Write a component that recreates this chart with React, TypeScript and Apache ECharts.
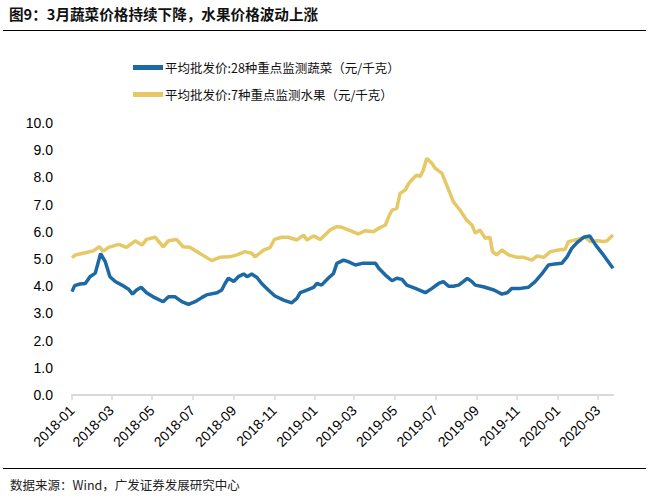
import React, { useEffect, useRef } from "react";
import * as echarts from "echarts";

const titleText = "图9：3月蔬菜价格持续下降，水果价格波动上涨";
const sourceText = "数据来源：Wind，广发证券发展研究中心";
const vegName = "平均批发价:28种重点监测蔬菜（元/千克）";
const fruitName = "平均批发价:7种重点监测水果（元/千克）";

const vegDates = [
  "2018-01-01", "2018-01-05", "2018-01-13", "2018-01-21", "2018-01-28", "2018-02-05", "2018-02-13", "2018-02-20",
  "2018-02-27", "2018-03-07", "2018-03-17", "2018-03-27", "2018-04-02", "2018-04-08", "2018-04-15", "2018-04-23",
  "2018-05-03", "2018-05-18", "2018-05-26", "2018-06-05", "2018-06-15", "2018-06-25", "2018-07-05", "2018-07-15",
  "2018-07-22", "2018-08-07", "2018-08-14", "2018-08-19", "2018-08-24", "2018-09-01", "2018-09-08", "2018-09-16",
  "2018-09-21", "2018-09-28", "2018-10-06", "2018-10-13", "2018-10-23", "2018-11-02", "2018-11-15", "2018-11-27",
  "2018-12-05", "2018-12-10", "2018-12-20", "2018-12-30", "2019-01-04", "2019-01-11", "2019-01-21", "2019-01-29",
  "2019-02-03", "2019-02-13", "2019-02-20", "2019-03-03", "2019-03-13", "2019-03-23", "2019-04-02", "2019-04-07",
  "2019-04-17", "2019-04-27", "2019-05-04", "2019-05-12", "2019-05-19", "2019-06-01", "2019-06-16", "2019-06-26",
  "2019-07-06", "2019-07-13", "2019-07-21", "2019-07-28", "2019-08-05", "2019-08-12", "2019-08-18", "2019-08-25",
  "2019-08-30", "2019-09-11", "2019-09-27", "2019-10-09", "2019-10-17", "2019-10-24", "2019-11-06", "2019-11-18",
  "2019-11-28", "2019-12-08", "2019-12-18", "2019-12-28", "2020-01-07", "2020-01-15", "2020-01-22", "2020-01-30",
  "2020-02-09", "2020-02-18", "2020-02-27", "2020-03-08", "2020-03-15", "2020-03-24",
];
const vegValues = [
  3.8, 4.02, 4.08, 4.1, 4.35, 4.48, 5.2, 4.9,
  4.35, 4.17, 4.04, 3.89, 3.71, 3.86, 3.96, 3.76,
  3.61, 3.43, 3.61, 3.61, 3.43, 3.33, 3.43, 3.58,
  3.68, 3.76, 3.86, 4.1, 4.29, 4.17, 4.35, 4.45,
  4.35, 4.45, 4.32, 4.1, 3.86, 3.64, 3.49, 3.39,
  3.55, 3.76, 3.86, 3.96, 4.1, 4.04, 4.29, 4.47,
  4.84, 4.96, 4.9, 4.78, 4.84, 4.84, 4.84, 4.66,
  4.41, 4.2, 4.29, 4.25, 4.04, 3.92, 3.76, 3.92,
  4.1, 4.17, 4.0, 4.0, 4.04, 4.17, 4.29, 4.17,
  4.04, 3.98, 3.86, 3.71, 3.76, 3.92, 3.92, 3.96,
  4.17, 4.45, 4.78, 4.82, 4.84, 5.08, 5.39, 5.6,
  5.8, 5.85, 5.51, 5.2, 4.96, 4.66,
];

const fruitDates = [
  "2018-01-01", "2018-01-06", "2018-01-21", "2018-02-02", "2018-02-11", "2018-02-17", "2018-02-25", "2018-03-12",
  "2018-03-24", "2018-04-06", "2018-04-16", "2018-04-23", "2018-05-06", "2018-05-18", "2018-05-26", "2018-06-07",
  "2018-06-17", "2018-06-27", "2018-07-08", "2018-07-22", "2018-07-30", "2018-08-11", "2018-08-26", "2018-09-06",
  "2018-09-18", "2018-09-28", "2018-10-03", "2018-10-16", "2018-10-26", "2018-11-01", "2018-11-12", "2018-11-22",
  "2018-12-05", "2018-12-15", "2018-12-20", "2018-12-30", "2019-01-09", "2019-01-16", "2019-01-24", "2019-02-03",
  "2019-02-10", "2019-02-20", "2019-03-07", "2019-03-18", "2019-03-30", "2019-04-07", "2019-04-17", "2019-04-22",
  "2019-04-27", "2019-05-04", "2019-05-09", "2019-05-17", "2019-05-22", "2019-05-29", "2019-06-03", "2019-06-08",
  "2019-06-13", "2019-06-18", "2019-06-26", "2019-07-01", "2019-07-11", "2019-07-21", "2019-07-28", "2019-08-07",
  "2019-08-17", "2019-08-25", "2019-08-30", "2019-09-06", "2019-09-14", "2019-09-21", "2019-09-25", "2019-10-01",
  "2019-10-09", "2019-10-19", "2019-11-01", "2019-11-11", "2019-11-23", "2019-12-01", "2019-12-11", "2019-12-21",
  "2020-01-02", "2020-01-12", "2020-01-17", "2020-01-30", "2020-02-11", "2020-02-19", "2020-02-29", "2020-03-10",
  "2020-03-15", "2020-03-24",
];
const fruitValues = [
  5.05, 5.15, 5.23, 5.3, 5.45, 5.29, 5.43, 5.54,
  5.43, 5.67, 5.51, 5.72, 5.8, 5.45, 5.67, 5.72,
  5.45, 5.43, 5.27, 5.06, 4.94, 5.06, 5.08, 5.15,
  5.27, 5.21, 5.08, 5.33, 5.43, 5.72, 5.8, 5.8,
  5.7, 5.88, 5.7, 5.85, 5.72, 5.88, 6.07, 6.19,
  6.17, 6.07, 5.92, 6.04, 6.0, 6.13, 6.25, 6.56,
  6.8, 6.86, 7.41, 7.54, 7.78, 7.97, 8.09, 8.03,
  8.27, 8.7, 8.51, 8.33, 8.15, 7.54, 7.11, 6.8,
  6.43, 6.25, 5.95, 6.07, 5.76, 5.8, 5.27, 5.15,
  5.33, 5.15, 5.06, 5.06, 4.96, 5.11, 5.06, 5.27,
  5.33, 5.36, 5.64, 5.72, 5.8, 5.64, 5.67, 5.64,
  5.67, 5.88,
];

const xTickMonths = [
  "2018-01", "2018-03", "2018-05", "2018-07", "2018-09", "2018-11", "2019-01",
  "2019-03", "2019-05", "2019-07", "2019-09", "2019-11", "2020-01", "2020-03",
];
const xStart = "2018-01-01";
const xEnd = "2020-03-24";

const toTime = (s: string) => {
  const p = s.split("-").map(Number);
  return Date.UTC(p[0], p[1] - 1, p[2] || 1);
};

const FONT = 'Arial, "Liberation Sans", sans-serif';
const CJK = '"Noto Sans CJK SC", "Noto Sans", sans-serif';
const BLUE = "#1c69a3";
const YELLOW = "#e6c865";

export default function App() {
  const ref = useRef<HTMLDivElement>(null);
  useEffect(() => {
    if (!ref.current) return;
    const chart = echarts.init(ref.current, undefined, { renderer: "svg" });
    const tickValues = xTickMonths.map(toTime);
    chart.setOption({
      animation: false,
      backgroundColor: "#ffffff",
      graphic: [
        {
          type: "text",
          left: 9,
          top: 6,
          style: { text: titleText, font: `bold 14.6px ${CJK}`, fill: "#111" },
        },
        {
          type: "line",
          shape: { x1: 3, y1: 30.5, x2: 646, y2: 30.5 },
          style: { stroke: "#000", lineWidth: 1 },
        },
        {
          type: "line",
          shape: { x1: 3, y1: 468.5, x2: 646, y2: 468.5 },
          style: { stroke: "#000", lineWidth: 1 },
        },
        {
          type: "text",
          left: 10,
          top: 478,
          style: { text: sourceText, font: `12.5px ${CJK}`, fill: "#222" },
        },
      ],
      legend: {
        orient: "vertical",
        left: 128,
        top: 55,
        itemWidth: 30,
        itemHeight: 5,
        itemGap: 12,
        icon: "rect",
        textStyle: { fontSize: 12.5, fontFamily: CJK, color: "#111", padding: [0, 0, 0, -3], lineHeight: 15 },
        data: [vegName, fruitName],
      },
      grid: { left: 72, right: 37, top: 123, bottom: 105, containLabel: false },
      xAxis: {
        type: "value",
        min: toTime(xStart),
        max: toTime(xEnd),
        axisLine: { show: true, lineStyle: { color: "#d9d9d9", width: 2 } },
        axisTick: {
          show: true,
          customValues: tickValues,
          length: 5,
          lineStyle: { color: "#d9d9d9", width: 1.5 },
        },
        axisLabel: {
          customValues: tickValues,
          rotate: 45,
          margin: 13,
          fontSize: 14,
          fontFamily: FONT,
          color: "#000",
          formatter: (v: number) => {
            const d = new Date(v);
            const m = d.getUTCMonth() + 1;
            return `${d.getUTCFullYear()}-${m < 10 ? "0" + m : m}`;
          },
        },
        splitLine: { show: false },
      },
      yAxis: {
        type: "value",
        min: 0,
        max: 10,
        interval: 1,
        axisLine: { show: false },
        axisTick: { show: false },
        splitLine: { show: false },
        axisLabel: {
          margin: 19,
          fontSize: 14,
          fontFamily: FONT,
          color: "#000",
          formatter: (v: number) => v.toFixed(1),
        },
      },
      series: [
        {
          name: vegName,
          type: "line",
          showSymbol: false,
          z: 3,
          color: BLUE,
          lineStyle: { width: 3.5, color: BLUE },
          data: vegDates.map((d, i) => [toTime(d), vegValues[i]]),
        },
        {
          name: fruitName,
          type: "line",
          showSymbol: false,
          z: 2,
          color: YELLOW,
          lineStyle: { width: 3.5, color: YELLOW },
          data: fruitDates.map((d, i) => [toTime(d), fruitValues[i]]),
        },
      ],
    });
    return () => chart.dispose();
  }, []);
  return (
    <div
      ref={ref}
      style={{ position: "fixed", left: 0, top: 0, width: 650, height: 500, background: "#fff" }}
    />
  );
}
